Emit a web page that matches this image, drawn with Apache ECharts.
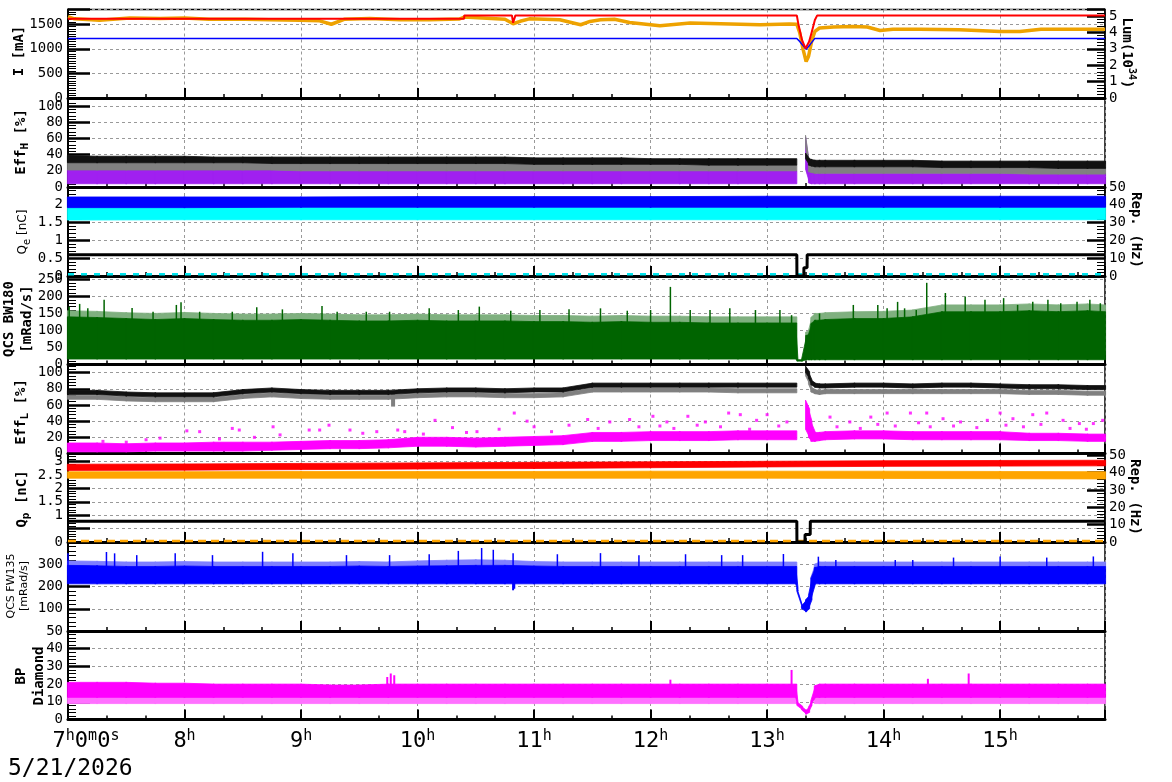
<!DOCTYPE html>
<html>
<head>
<meta charset="utf-8">
<title>beam monitor</title>
<script src="https://cdn.jsdelivr.net/npm/echarts@6.0.0/dist/echarts.min.js"></script>
<style>
    html, body {margin: 0; padding: 0; background: #fff;}
    #main {width: 1172px; height: 782px;}
</style>
</head>
<body>
<div id="main"></div>
<script>
// 时间轴 (小时)
var T = [7.0, 7.25, 7.5, 7.75, 8.0, 8.25, 8.5, 8.75, 9.0, 9.25, 9.5, 9.75, 10.0, 10.25, 10.5, 10.75, 11.0, 11.25, 11.5, 11.75, 12.0, 12.25, 12.5, 12.75, 13.0, 13.25,
    13.26, 13.30, 13.335, 13.36, 13.38, 13.41, 13.45,
    13.5, 13.75, 14.0, 14.25, 14.5, 14.75, 15.0, 15.25, 15.5, 15.75, 15.9];

// 束流 I [mA]
var redT = [7.0, 10.24, 10.25, 10.26, 10.40, 10.401, 10.81, 10.82, 10.84, 13.255, 13.27, 13.30, 13.33, 13.36, 13.38, 13.41, 13.43, 15.9];
var redV = [1612, 1612, 1590, 1612, 1612, 1680, 1680, 1530, 1680, 1680, 1483, 1177, 1008, 1143, 1314, 1585, 1680, 1680];
var blueT = [7.0, 10.81, 10.82, 10.84, 13.255, 13.28, 13.31, 13.335, 13.37, 13.41, 15.9];
var blueV = [1212, 1212, 1195, 1212, 1212, 1150, 1060, 990, 1090, 1212, 1212];
// 亮度 Lum
var lumT = [7.0, 7.055, 7.27, 7.53, 7.79, 8.0, 8.21, 8.52, 8.73, 8.99, 9.16, 9.26, 9.37, 9.59, 9.85, 10.10, 10.36, 10.40, 10.75, 10.82, 10.88, 10.96, 11.22, 11.40, 11.48, 11.57, 11.69, 11.82, 12.08, 12.34, 12.60, 12.94, 13.19,
    13.255, 13.28, 13.31, 13.335, 13.355, 13.385, 13.41, 13.45, 13.57, 13.74, 13.86, 13.97, 14.08, 14.31, 14.65, 15.0, 15.17, 15.35, 15.6, 15.9];
var lumV = [4.96, 4.83, 4.74, 4.88, 4.85, 4.88, 4.80, 4.80, 4.77, 4.74, 4.71, 4.50, 4.80, 4.85, 4.77, 4.77, 4.82, 4.94, 4.80, 4.53, 4.68, 4.83, 4.77, 4.47, 4.67, 4.77, 4.80, 4.61, 4.41, 4.57, 4.53, 4.47, 4.51,
    4.50, 3.98, 2.94, 2.22, 2.53, 3.55, 4.06, 4.27, 4.33, 4.36, 4.33, 4.12, 4.20, 4.20, 4.16, 4.06, 4.06, 4.20, 4.20, 4.20];

// Eff_H [%]
var effHBlackLo = [30, 30, 30, 30, 30, 30, 30, 29, 29, 29, 29, 29, 29, 29, 29, 29, 28, 28, 28, 28, 28, 28, 27, 27, 27, 27, null, null, 35, 27, 26, 25, 25, 25, 25, 25, 25, 24, 24, 24, 24, 23, 23, 23];
var effHBlackHi = [39, 38, 38, 38, 38, 37, 37, 37, 37, 37, 37, 37, 37, 37, 37, 37, 36, 36, 36, 36, 35, 35, 35, 35, 35, 35, null, null, 42, 35, 34, 33, 33, 33, 33, 33, 33, 32, 32, 32, 32, 32, 32, 32];
var effHGrayLo = [21, 21, 21, 21, 21, 21, 21, 21, 20, 20, 20, 20, 20, 20, 20, 20, 20, 20, 20, 20, 20, 20, 20, 20, 20, 20, null, null, 50, 19, 18, 17, 17, 17, 17, 17, 17, 17, 17, 17, 16, 16, 16, 16];
var effHGrayHi = [30, 30, 30, 30, 30, 30, 30, 29, 29, 29, 29, 29, 29, 29, 29, 29, 28, 28, 28, 28, 28, 28, 27, 27, 27, 27, null, null, 64, 27, 26, 25, 25, 25, 25, 25, 25, 24, 24, 24, 24, 23, 23, 23];
var effHPurpleLo = [4, 4, 4, 4, 4, 4, 4, 4, 4, 4, 4, 4, 4, 4, 4, 4, 4, 4, 4, 4, 4, 4, 4, 4, 4, 4, null, null, 22, 5, 4, 4, 4, 4, 4, 4, 4, 4, 4, 4, 4, 4, 4, 4];
var effHPurpleHi = [21, 21, 21, 21, 21, 21, 21, 21, 20, 20, 20, 20, 20, 20, 20, 20, 20, 20, 20, 20, 20, 20, 20, 20, 20, 20, null, null, 62, 26, 22, 17, 17, 17, 17, 17, 17, 17, 17, 17, 16, 16, 16, 16];

// Q_e [nC] / Rep
var qeT = [7.0, 8.0, 9.0, 10.0, 11.0, 12.0, 13.0, 14.0, 15.0, 15.9];
var qeBlueLo = [1.92, 1.92, 1.93, 1.93, 1.93, 1.93, 1.93, 1.93, 1.93, 1.93];
var qeBlueHi = [2.22, 2.22, 2.22, 2.23, 2.23, 2.23, 2.24, 2.24, 2.24, 2.24];
var qeCyanLo = [1.57, 1.58, 1.58, 1.58, 1.58, 1.58, 1.58, 1.58, 1.58, 1.58];
var qeCyanHi = [1.92, 1.92, 1.93, 1.93, 1.93, 1.93, 1.93, 1.93, 1.93, 1.93];
var cyanZeroT = [7.0, 15.9];
var cyanZeroV = [0.05, 0.05];
var rep3T = [7.0, 13.255, 13.256, 13.315, 13.316, 13.343, 13.344, 15.9];
var rep3V = [12, 12, 0, 0, 4.7, 4.7, 12, 12];

// QCS BW180
var greenLo = [16, 16, 16, 16, 16, 16, 16, 16, 16, 16, 16, 16, 16, 16, 16, 16, 16, 16, 16, 16, 16, 16, 16, 16, 16, 16, 10, 10, 14, 14, 14, 14, 14, 14, 14, 14, 14, 14, 14, 14, 14, 14, 14, 14];
var greenHi = [140, 138, 135, 132, 135, 132, 130, 130, 132, 130, 128, 128, 130, 128, 128, 128, 126, 126, 124, 126, 124, 124, 122, 122, 122, 122, 14, 14, 85, 88, 120, 130, 130, 132, 135, 135, 140, 155, 155, 155, 158, 155, 158, 155];
var greenTopHi = [158, 156, 152, 150, 153, 150, 148, 148, 150, 148, 146, 146, 148, 146, 146, 146, 144, 144, 142, 144, 142, 142, 140, 140, 140, 140, null, null, 95, 100, 138, 150, 150, 152, 155, 156, 160, 175, 175, 175, 178, 175, 178, 175];
var greenSpikeT = [7.01, 7.10, 7.17, 7.31, 7.55, 7.73, 7.93, 7.97, 8.13, 8.41, 8.62, 8.84, 9.18, 9.31, 9.56, 9.76, 10.1, 10.35, 10.53, 10.8, 11.05, 11.3, 11.57, 11.8, 12.0, 12.17, 12.34, 12.51, 12.68, 12.9, 13.11, 13.21,
    13.45, 13.74, 13.95, 14.03, 14.12, 14.18, 14.28, 14.37, 14.53, 14.70, 14.87, 15.03, 15.15, 15.28, 15.41, 15.52, 15.66, 15.77, 15.86];
var greenSpikeV = [170, 178, 165, 190, 166, 155, 175, 183, 155, 155, 168, 162, 172, 155, 155, 155, 165, 160, 170, 158, 160, 162, 165, 158, 160, 228, 160, 160, 165, 160, 160, 145,
    150, 175, 175, 165, 184, 165, 160, 240, 210, 200, 190, 195, 175, 184, 190, 180, 184, 190, 180];

// Eff_L [%]
var effLBlackLo = [73, 73, 71, 70, 70, 70, 74, 76, 74, 73, 73, 73, 75, 76, 76, 75, 76, 76, 82, 82, 82, 82, 82, 82, 82, 82, null, null, 100, 93, 85, 82, 81, 81, 82, 82, 81, 82, 82, 81, 80, 80, 79, 79];
var effLBlackHi = [78, 78, 76, 75, 75, 75, 79, 81, 79, 78, 78, 78, 80, 81, 81, 80, 81, 81, 87, 87, 87, 87, 87, 87, 87, 87, null, null, 108, 101, 91, 87, 86, 86, 87, 87, 86, 87, 87, 86, 85, 85, 84, 84];
var effLGrayLo = [67, 67, 65, 64, 64, 64, 68, 70, 68, 67, 67, 67, 69, 70, 70, 69, 69, 70, 76, 76, 76, 76, 76, 75, 75, 75, null, null, 96, 86, 76, 74, 73, 74, 74, 74, 74, 74, 74, 74, 73, 73, 72, 72];
var effLGrayHi = [72, 72, 70, 69, 69, 69, 73, 75, 73, 72, 72, 72, 74, 75, 75, 74, 74, 75, 81, 81, 81, 81, 81, 80, 80, 80, null, null, 104, 94, 82, 79, 78, 79, 79, 79, 79, 79, 79, 79, 78, 78, 77, 77];
var effLMagLo = [2, 2, 2, 3, 3, 3, 3, 4, 5, 6, 6, 7, 9, 9, 8, 9, 10, 11, 15, 15, 16, 16, 16, 17, 17, 17, null, null, 30, 20, 15, 15, 16, 17, 18, 18, 17, 17, 17, 17, 16, 16, 15, 15];
var effLMagHi = [13, 13, 12, 13, 13, 14, 14, 14, 15, 16, 16, 17, 20, 20, 19, 20, 21, 22, 26, 26, 27, 27, 27, 28, 28, 28, null, null, 66, 55, 40, 26, 26, 27, 28, 28, 27, 27, 27, 27, 25, 25, 24, 24];
var effLDipT = [9.79];
var effLDipLo = [58];
var effLDipHi = [74];
var effLDotT = [7.3, 7.5, 7.67, 7.79, 8.02, 8.13, 8.3, 8.41, 8.47, 8.6, 8.76, 8.82, 9.07, 9.16, 9.24, 9.42, 9.53, 9.65, 9.83, 9.89, 10.05, 10.15, 10.3, 10.42, 10.51, 10.7, 10.83, 10.94, 11.0, 11.15, 11.3, 11.46, 11.55, 11.65, 11.82, 11.9,
    12.02, 12.08, 12.14, 12.2, 12.32, 12.4, 12.47, 12.6, 12.67, 12.77, 12.85, 12.91, 13.0, 13.1, 13.17, 13.54, 13.6, 13.71, 13.8, 13.89, 13.95, 14.03, 14.1, 14.23, 14.3, 14.37, 14.4, 14.51, 14.6, 14.66, 14.8, 14.89,
    15.0, 15.05, 15.11, 15.2, 15.28, 15.35, 15.4, 15.54, 15.6, 15.68, 15.74, 15.8, 15.88];
var effLDotV = [15, 14, 17, 19, 28, 27, 18, 31, 29, 20, 33, 23, 29, 29, 35, 29, 25, 27, 29, 27, 24, 41, 32, 26, 27, 30, 50, 40, 33, 27, 35, 42, 31, 39, 42, 33,
    46, 34, 39, 31, 46, 35, 39, 33, 50, 48, 30, 41, 48, 34, 39, 45, 33, 39, 31, 45, 36, 50, 34, 50, 38, 50, 33, 43, 34, 39, 32, 41,
    50, 35, 43, 33, 48, 36, 50, 41, 31, 37, 30, 37, 41];

// Q_p [nC] / Rep
var qpT = [7.0, 8.0, 9.0, 10.0, 11.0, 12.0, 13.0, 14.0, 15.0, 15.9];
var qpRedLo = [2.67, 2.68, 2.70, 2.72, 2.74, 2.77, 2.80, 2.82, 2.83, 2.84];
var qpRedHi = [2.90, 2.91, 2.93, 2.95, 2.97, 2.99, 3.01, 3.03, 3.04, 3.05];
var qpOrangeLo = [2.38, 2.38, 2.38, 2.38, 2.38, 2.38, 2.38, 2.37, 2.36, 2.35];
var qpOrangeHi = [2.62, 2.62, 2.63, 2.63, 2.63, 2.64, 2.64, 2.64, 2.63, 2.62];
var orangeZeroT = [7.0, 15.9];
var orangeZeroV = [0.04, 0.04];
var rep6T = [7.0, 13.255, 13.256, 13.325, 13.326, 13.37, 13.371, 15.9];
var rep6V = [12, 12, 0, 0, 4.3, 4.3, 12, 12];

// QCS FW135
var fwLo = [212, 212, 212, 212, 212, 212, 212, 212, 212, 212, 212, 212, 212, 212, 212, 212, 212, 212, 212, 212, 212, 212, 212, 212, 212, 212, 180, 101, 86, 100, 140, 212, 212, 212, 212, 212, 212, 212, 212, 212, 212, 212, 212, 212];
var fwHi = [295, 293, 290, 290, 292, 290, 290, 290, 290, 290, 292, 290, 292, 293, 295, 295, 292, 290, 290, 290, 290, 290, 290, 290, 290, 290, 195, 112, 140, 160, 235, 285, 290, 290, 290, 290, 290, 290, 290, 290, 290, 290, 290, 290];
var fwTopHi = [315, 313, 310, 310, 312, 310, 310, 310, 310, 310, 312, 310, 315, 318, 320, 318, 312, 310, 310, 310, 310, 310, 310, 310, 310, 310, null, null, null, null, 240, 300, 310, 310, 310, 310, 310, 310, 310, 310, 310, 310, 310, 310];
var fwSpikeT = [7.0, 7.33, 7.4, 7.59, 7.92, 8.24, 8.67, 8.93, 9.39, 9.76, 10.1, 10.35, 10.55, 10.65, 10.82, 11.2, 11.57, 11.9, 12.3, 12.61, 12.79, 13.14, 13.44, 13.59, 14.1, 14.25, 14.6, 15.0, 15.4, 15.8];
var fwSpikeV = [349, 355, 349, 341, 349, 341, 356, 349, 341, 341, 345, 360, 373, 365, 350, 345, 350, 340, 345, 341, 341, 346, 334, 319, 319, 319, 330, 335, 330, 335];
var fwDropT = [10.82, 10.83];
var fwDropLo = [183, 190];
var fwDropHi = [220, 220];

// BP Diamond
var bpLo = [12.5, 12.5, 12.5, 12.5, 12.5, 12.5, 12.5, 12.5, 12.5, 12.5, 12.5, 12.5, 12.5, 12.5, 12.5, 12.5, 12.5, 12.5, 12.5, 12.5, 12.5, 12.5, 12.5, 12.5, 12.5, 12.5, 8, 5.5, 3, 4, 8, 12.5, 12.5, 12.5, 12.5, 12.5, 12.5, 12.5, 12.5, 12.5, 12.5, 12.5, 12.5, 12.5];
var bpHi = [21, 21, 21, 20.5, 20.5, 20, 20, 20, 20, 19.5, 19.5, 20, 20, 20, 20, 20, 20, 20, 20, 20, 20, 20, 20, 20, 20, 20, 10, 7.5, 5, 7, 10.5, 19, 20, 20, 20, 20, 20, 20, 20, 20, 20, 20, 20, 20];
var bpCombLo = [9, 9, 9, 9, 9, 9, 9, 9, 9, 9, 9, 9, 9, 9, 9, 9, 9, 9, 9, 9, 9, 9, 9, 9, 9, 9, null, null, null, null, null, 9, 9, 9, 9, 9, 9, 9, 9, 9, 9, 9, 9, 9];
var bpCombHi = [12.5, 12.5, 12.5, 12.5, 12.5, 12.5, 12.5, 12.5, 12.5, 12.5, 12.5, 12.5, 12.5, 12.5, 12.5, 12.5, 12.5, 12.5, 12.5, 12.5, 12.5, 12.5, 12.5, 12.5, 12.5, 12.5, null, null, null, null, null, 12.5, 12.5, 12.5, 12.5, 12.5, 12.5, 12.5, 12.5, 12.5, 12.5, 12.5, 12.5, 12.5];
var bpSpikeT = [9.74, 9.77, 9.80, 12.17, 13.21, 14.38, 14.73];
var bpSpikeV = [24, 26, 25, 22.5, 28, 23, 26];

var MONO = 'DejaVu Sans Mono';
var tops = [9.5, 98, 187, 276, 364.5, 453.5, 542, 631];
var bottoms = [98, 187, 276, 364.5, 453.5, 542, 631, 719.5];

var chart = echarts.init(document.getElementById('main'), null, {renderer: 'canvas'});

function pairs(t, v) {
    var out = [];
    for (var i = 0; i < t.length; i++) {
        out.push([t[i], v[i]]);
    }
    return out;
}

// 带状区域 (上下包络)
function bandSeries(gi, yi, t, lo, hi, color, z) {
    var data = [];
    for (var i = 0; i + 1 < t.length; i++) {
        if (lo[i] == null || hi[i] == null || lo[i + 1] == null || hi[i + 1] == null) continue;
        data.push([t[i], lo[i], hi[i], t[i + 1], lo[i + 1], hi[i + 1]]);
    }
    return {
        type: 'custom', xAxisIndex: gi, yAxisIndex: yi, data: data, silent: true, z: z,
        encode: {x: [0, 3], y: [1, 2, 4, 5]},
        renderItem: function (params, api) {
            var p1 = api.coord([api.value(0), api.value(1)]);
            var p2 = api.coord([api.value(3), api.value(4)]);
            var p3 = api.coord([api.value(3), api.value(5)]);
            var p4 = api.coord([api.value(0), api.value(2)]);
            // 稍微加宽，避免接缝
            p1[0] -= 0.6; p4[0] -= 0.6; p2[0] += 0.6; p3[0] += 0.6;
            return {
                type: 'polygon', shape: {points: [p1, p2, p3, p4]},
                style: {fill: color, stroke: color, lineWidth: 0.8}
            };
        }
    };
}

// 竖线 (尖峰)
function spikeSeries(gi, yi, t, lo, hi, color, width, z) {
    var data = [];
    for (var i = 0; i < t.length; i++) {
        data.push([t[i], typeof lo === 'number' ? lo : lo[i], hi[i]]);
    }
    return {
        type: 'custom', xAxisIndex: gi, yAxisIndex: yi, data: data, silent: true, z: z,
        encode: {x: 0, y: [1, 2]},
        renderItem: function (params, api) {
            var a = api.coord([api.value(0), api.value(1)]);
            var b = api.coord([api.value(0), api.value(2)]);
            return {
                type: 'line', shape: {x1: a[0], y1: a[1], x2: b[0], y2: b[1]},
                style: {stroke: color, lineWidth: width}
            };
        }
    };
}

function lineSeries(gi, yi, t, v, color, width, z, dash) {
    return {
        type: 'line', xAxisIndex: gi, yAxisIndex: yi, data: pairs(t, v), silent: true, z: z,
        symbol: 'none', showSymbol: false,
        lineStyle: {color: color, width: width, type: dash || 'solid'}
    };
}

var grids = [], xAxes = [], yAxes = [];
for (var i = 0; i < 8; i++) {
    grids.push({
        left: 68, width: 1037, top: tops[i], height: bottoms[i] - tops[i],
        show: true, borderColor: '#000', borderWidth: 1.5, outerBoundsMode: 'none'
    });
    xAxes.push({
        type: 'value', gridIndex: i, min: 7, max: 15.9, interval: 1,
        axisLine: {onZero: false, lineStyle: {color: '#000', width: 3}},
        axisTick: {inside: true, length: 10, lineStyle: {color: '#000', width: 2}},
        minorTick: {show: true, splitNumber: 3, length: 4, lineStyle: {color: '#000', width: 1.5}},
        splitLine: {show: true, lineStyle: {color: '#999', type: [3, 3], width: 1}},
        axisLabel: i === 7 ? {
            show: true, margin: 9, showMaxLabel: false,
            formatter: function (v) {
                if (v === 7) return '{n0|7}{s|h}{n|0}{s|m}{n|0}{s|s}';
                return '{n|' + v + '}{s|h}';
            },
            rich: {
                n0: {fontFamily: MONO, fontSize: 22, lineHeight: 26, color: '#000', padding: [0, 0, 0, 36]},
                n: {fontFamily: MONO, fontSize: 22, lineHeight: 26, color: '#000'},
                s: {fontFamily: MONO, fontSize: 15, lineHeight: 15, color: '#000', padding: [0, 0, 11, 0]}
            }
        } : {show: false}
    });
}

function yAxisOf(gi, pos, min, max, step, minor, showMax, showMin) {
    return {
        type: 'value', gridIndex: gi, position: pos, min: min, max: max, interval: step,
        axisLine: {show: true, onZero: false, lineStyle: {color: '#000', width: pos === 'left' ? 2 : 1.5}},
        axisTick: {inside: true, length: pos === 'left' ? 22 : 18, lineStyle: {color: '#000', width: 2.5}},
        minorTick: {show: true, splitNumber: minor, length: 8, lineStyle: {color: '#000', width: 1}},
        splitLine: {show: pos === 'left', lineStyle: {color: '#999', type: [3, 3], width: 1}},
        axisLabel: {
            fontFamily: MONO, fontSize: 14, color: '#000', margin: pos === 'left' ? 5 : 4,
            showMaxLabel: !!showMax, showMinLabel: showMin !== false,
            formatter: function (v) { return String(v); }
        }
    };
}

yAxes.push(yAxisOf(0, 'left', 0, 1800, 500, 10));        // 0 I
yAxes.push(yAxisOf(0, 'right', 0, 5.4, 1, 5));           // 1 Lum
yAxes.push(yAxisOf(1, 'left', 0, 110, 20, 5));           // 2 Eff_H
yAxes.push(yAxisOf(2, 'left', 0, 2.5, 0.5, 5));          // 3 Q_e
yAxes.push(yAxisOf(2, 'right', 0, 50, 10, 5, true));     // 4 Rep
yAxes.push(yAxisOf(3, 'left', 0, 260, 50, 5));           // 5 BW180
yAxes.push(yAxisOf(4, 'left', 0, 110, 20, 5));           // 6 Eff_L
yAxes.push(yAxisOf(5, 'left', 0, 3.3, 0.5, 5));          // 7 Q_p
yAxes.push(yAxisOf(5, 'right', 0, 51, 10, 5));           // 8 Rep
yAxes.push(yAxisOf(6, 'left', 0, 400, 100, 5, false, false)); // 9 FW135
yAxes.push(yAxisOf(7, 'left', 0, 50, 10, 5, true));      // 10 BP

var series = [
    // 第一栏
    lineSeries(0, 1, lumT, lumV, '#eea200', 3.5, 3),
    lineSeries(0, 0, blueT, blueV, '#0000ff', 1.5, 4),
    lineSeries(0, 0, redT, redV, '#ff0000', 2, 5),
    // Eff_H
    bandSeries(1, 2, T, effHPurpleLo, effHPurpleHi, '#a020f0', 3),
    bandSeries(1, 2, T, effHGrayLo, effHGrayHi, '#808080', 4),
    bandSeries(1, 2, T, effHBlackLo, effHBlackHi, '#111111', 5),
    // Q_e
    bandSeries(2, 3, qeT, qeCyanLo, qeCyanHi, '#00ffff', 3),
    bandSeries(2, 3, qeT, qeBlueLo, qeBlueHi, '#0000ff', 4),
    lineSeries(2, 3, cyanZeroT, cyanZeroV, '#00e5ee', 2.5, 4, [6, 7]),
    lineSeries(2, 4, rep3T, rep3V, '#000', 3, 5),
    // BW180
    bandSeries(3, 5, T, greenHi, greenTopHi, '#7fb07f', 3),
    spikeSeries(3, 5, greenSpikeT, 100, greenSpikeV, '#006400', 1.5, 4),
    bandSeries(3, 5, T, greenLo, greenHi, '#006400', 4),
    // Eff_L
    bandSeries(4, 6, T, effLMagLo, effLMagHi, '#ff00ff', 3),
    {
        type: 'scatter', xAxisIndex: 4, yAxisIndex: 6, data: pairs(effLDotT, effLDotV), silent: true, z: 3,
        symbol: 'rect', symbolSize: 3, itemStyle: {color: '#ff00ff'}
    },
    bandSeries(4, 6, T, effLGrayLo, effLGrayHi, '#808080', 4),
    spikeSeries(4, 6, effLDipT, effLDipLo, effLDipHi, '#808080', 4, 4),
    bandSeries(4, 6, T, effLBlackLo, effLBlackHi, '#111111', 5),
    // Q_p
    bandSeries(5, 7, qpT, qpOrangeLo, qpOrangeHi, '#ffa500', 3),
    bandSeries(5, 7, qpT, qpRedLo, qpRedHi, '#ff0000', 4),
    lineSeries(5, 7, orangeZeroT, orangeZeroV, '#ffa500', 2.5, 4, [8, 5]),
    lineSeries(5, 8, rep6T, rep6V, '#000', 3, 5),
    // FW135
    bandSeries(6, 9, T, fwHi, fwTopHi, '#7f7fff', 3),
    spikeSeries(6, 9, fwSpikeT, 250, fwSpikeV, '#0000ff', 1.5, 4),
    bandSeries(6, 9, T, fwLo, fwHi, '#0000ff', 4),
    spikeSeries(6, 9, fwDropT, fwDropLo, fwDropHi, '#0000ff', 2, 4),
    // BP Diamond
    bandSeries(7, 10, T, bpCombLo, bpCombHi, '#ff70ff', 3),
    bandSeries(7, 10, T, bpLo, bpHi, '#ff00ff', 3),
    spikeSeries(7, 10, bpSpikeT, 18, bpSpikeV, '#ff00ff', 2, 3)
];

// 轴名称
var rich = {
    b: {fontFamily: MONO, fontSize: 14, fontWeight: 'bold', lineHeight: 18, color: '#000'},
    bsub: {fontFamily: MONO, fontSize: 11, fontWeight: 'bold', lineHeight: 11, color: '#000', padding: [9, 0, 0, 0]},
    bsup: {fontFamily: MONO, fontSize: 10, fontWeight: 'bold', lineHeight: 10, color: '#000', padding: [0, 0, 9, 0]},
    r: {fontFamily: 'DejaVu Sans', fontSize: 12, lineHeight: 16, color: '#000'},
    rsub: {fontFamily: 'DejaVu Sans', fontSize: 10, lineHeight: 10, color: '#000', padding: [8, 0, 0, 0]},
    sm: {fontFamily: 'DejaVu Sans', fontSize: 11, lineHeight: 13, color: '#000'}
};
var names = [
    [19, 51, 90, '{b|I [mA]}'],
    [1127, 53, -90, '{b|Lum(10}{bsup|34}{b|)}'],
    [21, 142, 90, '{b|Eff}{bsub|H}{b| [%]}'],
    [23, 232, 90, '{r|Q}{rsub|e}{r| [nC]}'],
    [1136, 230, -90, '{b|Rep. (Hz)}'],
    [18.5, 319, 90, '{b|QCS BW180}\n{b|[mRad/s]}'],
    [21, 412, 90, '{b|Eff}{bsub|L}{b| [%]}'],
    [22, 499, 90, '{b|Q}{bsub|p}{b| [nC]}'],
    [1135, 497, -90, '{b|Rep. (Hz)}'],
    [18, 586, 90, '{sm|QCS FW135}\n{sm|[mRad/s]}'],
    [30.5, 676, 90, '{b|BP}\n{b|Diamond}']
];
var graphics = names.map(function (n) {
    return {
        type: 'text', x: n[0], y: n[1], rotation: n[2] * Math.PI / 180, silent: true,
        style: {text: n[3], rich: rich, align: 'center', verticalAlign: 'middle'}
    };
});
graphics.push({
    type: 'text', x: 8, y: 769, silent: true,
    style: {text: '5/21/2026', fontFamily: MONO, fontSize: 23, fill: '#000', align: 'left', verticalAlign: 'middle'}
});

chart.setOption({
    animation: false,
    backgroundColor: '#fff',
    grid: grids,
    xAxis: xAxes,
    yAxis: yAxes,
    series: series,
    graphic: graphics
});
</script>
</body>
</html>
